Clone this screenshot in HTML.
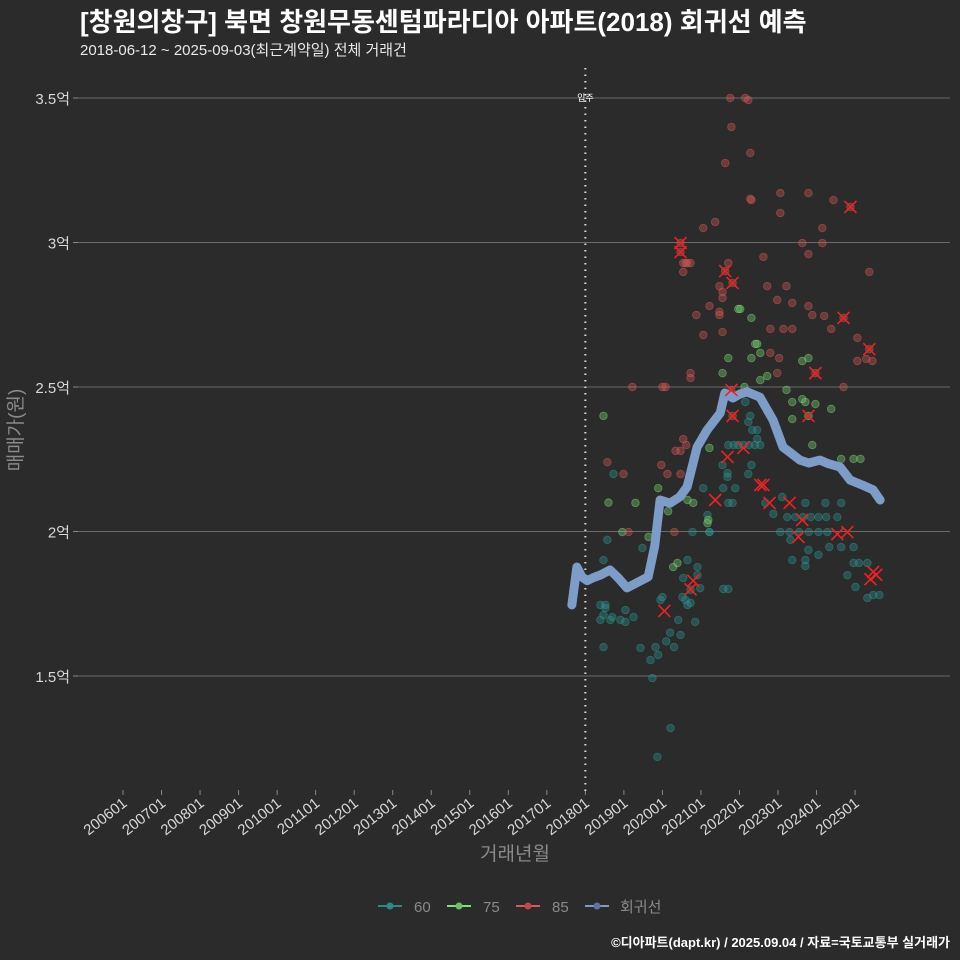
<!DOCTYPE html>
<html><head><meta charset="utf-8">
<style>
body{margin:0;background:#2b2b2b;}
svg{display:block;font-family:"Liberation Sans","Noto Sans CJK KR",sans-serif;}
</style></head>
<body>
<svg id="chart" width="960" height="960" viewBox="0 0 960 960" xmlns="http://www.w3.org/2000/svg">
<rect width="960" height="960" fill="#2b2b2b"/>
<text x="80" y="31" fill="#ffffff" font-size="26" font-weight="bold">[창원의창구] 북면 창원무동센텀파라디아 아파트(2018) 회귀선 예측</text>
<text x="80" y="55" fill="#e8e8e8" font-size="15">2018-06-12 ~ 2025-09-03(최근계약일) 전체 거래건</text>
<g id="grid"></g>
<g id="yaxis"></g>
<g id="xaxis"></g>
<g id="marks"></g>
<text transform="translate(22,430) rotate(-90)" text-anchor="middle" fill="#8a8a8a" font-size="19">매매가(원)</text>
<text x="515" y="860" text-anchor="middle" fill="#8a8a8a" font-size="19">거래년월</text>
<g font-size="15" fill="#8a8a8a">
 <g><line x1="378" y1="906" x2="402" y2="906" stroke="#2a8a86" stroke-width="2"/><circle cx="390" cy="906" r="3.5" fill="#2a8a86"/><text x="414" y="912">60</text></g>
 <g><line x1="447" y1="906" x2="471" y2="906" stroke="#7ee07a" stroke-width="2"/><circle cx="459" cy="906" r="3.5" fill="#6cc06a"/><text x="483" y="912">75</text></g>
 <g><line x1="516" y1="906" x2="540" y2="906" stroke="#e05555" stroke-width="2"/><circle cx="528" cy="906" r="3.5" fill="#c04848"/><text x="552" y="912">85</text></g>
 <g><line x1="585" y1="906" x2="609" y2="906" stroke="#7d9cc8" stroke-width="2"/><circle cx="597" cy="906" r="3.5" fill="#5a74a0"/><text x="620" y="912">회귀선</text></g>
</g>
<text x="950" y="947" text-anchor="end" fill="#ffffff" font-size="13" font-weight="bold">©디아파트(dapt.kr) / 2025.09.04 / 자료=국토교통부 실거래가</text>
</svg>
<script>
const yTicks=[3.5,3,2.5,2,1.5];
const yTickLabels=["3.5억","3억","2.5억","2억","1.5억"];
const xTicks=[2006,2007,2008,2009,2010,2011,2012,2013,2014,2015,2016,2017,2018,2019,2020,2021,2022,2023,2024,2025];
const xTickLabels=["200601","200701","200801","200901","201001","201101","201201","201301","201401","201501","201601","201701","201801","201901","202001","202101","202201","202301","202401","202501"];
const moveInYear=2018;
const s60=[[2018.47,1.901],[2018.57,1.971],[2018.73,2.199],[2019.48,1.943],[2018.39,1.746],[2018.52,1.746],[2018.47,1.711],[2018.70,1.704],[2019.04,1.728],[2019.25,1.704],[2020.00,1.773],[2020.52,1.773],[2020.65,1.746],[2020.73,1.798],[2020.91,1.877],[2020.65,1.901],[2020.78,1.998],[2021.22,1.998],[2021.06,2.15],[2021.58,2.15],[2021.89,2.15],[2021.71,2.099],[2021.82,2.099],[2021.69,2.189],[2021.69,2.202],[2022.31,2.23],[2022.23,2.199],[2021.56,2.23],[2021.58,1.801],[2021.71,1.801],[2021.71,2.299],[2021.85,2.299],[2021.97,2.299],[2022.10,2.299],[2022.25,2.299],[2022.40,2.299],[2022.54,2.299],[2022.23,2.379],[2022.33,2.351],[2022.46,2.351],[2022.28,2.40],[2022.46,2.32],[2022.15,2.448],[2022.67,2.099],[2022.88,2.061],[2023.11,2.119],[2023.71,2.099],[2024.23,2.099],[2024.64,2.099],[2023.24,2.05],[2023.45,2.05],[2023.65,2.05],[2023.85,2.05],[2024.05,2.05],[2024.25,2.05],[2024.54,2.05],[2023.06,1.998],[2023.30,1.998],[2023.55,1.998],[2023.80,1.998],[2024.05,1.998],[2024.28,1.998],[2023.32,1.971],[2023.79,1.936],[2024.05,1.919],[2024.33,1.946],[2024.64,1.946],[2024.96,1.946],[2023.37,1.901],[2023.71,1.901],[2023.71,1.881],[2024.96,1.891],[2025.10,1.891],[2025.32,1.891],[2024.80,1.849],[2025.01,1.808],[2025.32,1.77],[2025.47,1.78],[2025.63,1.78],[2021.17,2.057],[2021.22,1.998],[2019.82,1.60],[2019.69,1.555],[2019.43,1.597],[2019.89,1.573],[2019.74,1.493],[2019.87,1.22],[2020.21,1.32],[2018.47,1.60],[2018.91,1.694],[2018.39,1.694],[2018.65,1.694],[2018.52,1.735],[2019.04,1.687],[2020.60,1.763],[2020.41,1.694],[2020.85,1.687],[2020.47,1.642],[2020.73,1.753],[2020.98,1.804],[2020.91,1.849],[2020.54,1.839],[2019.95,1.763],[2020.20,1.65],[2020.10,1.62],[2020.30,1.60]];
const s75=[[2021.97,2.77],[2022.02,2.77],[2022.31,2.739],[2022.41,2.649],[2022.46,2.649],[2022.54,2.618],[2021.71,2.60],[2022.31,2.60],[2021.56,2.548],[2022.72,2.538],[2022.54,2.524],[2023.63,2.59],[2023.79,2.60],[2023.22,2.49],[2022.13,2.50],[2023.37,2.448],[2023.63,2.458],[2023.71,2.448],[2023.97,2.441],[2024.38,2.424],[2023.37,2.389],[2023.79,2.40],[2023.89,2.299],[2024.64,2.251],[2024.96,2.251],[2025.14,2.251],[2018.47,2.40],[2019.89,2.15],[2019.30,2.099],[2020.65,2.109],[2020.80,2.099],[2021.22,2.289],[2021.17,2.029],[2021.19,2.04],[2018.96,1.998],[2020.39,1.891],[2020.28,1.877],[2019.64,1.981],[2018.60,2.10],[2020.15,2.07]];
const s85=[[2021.76,3.5],[2022.15,3.5],[2022.23,3.493],[2021.63,3.275],[2021.79,3.4],[2022.28,3.31],[2022.28,3.151],[2023.06,3.171],[2023.79,3.171],[2022.31,3.147],[2023.06,3.102],[2024.44,3.147],[2024.88,3.123],[2021.06,3.05],[2021.37,3.071],[2020.47,2.998],[2020.47,2.967],[2020.54,2.929],[2020.60,2.929],[2020.65,2.929],[2020.73,2.929],[2020.54,2.898],[2021.63,2.901],[2021.71,2.929],[2021.82,2.86],[2021.48,2.849],[2021.56,2.829],[2021.56,2.808],[2022.62,2.95],[2023.63,2.998],[2024.15,2.998],[2023.79,2.96],[2024.15,3.05],[2022.72,2.849],[2023.22,2.849],[2021.22,2.78],[2021.48,2.76],[2021.48,2.749],[2020.88,2.749],[2022.98,2.801],[2023.37,2.791],[2023.79,2.78],[2023.89,2.749],[2024.20,2.746],[2024.70,2.739],[2024.38,2.701],[2022.80,2.701],[2023.14,2.701],[2023.37,2.701],[2025.06,2.67],[2025.37,2.631],[2025.06,2.59],[2025.29,2.597],[2025.45,2.59],[2025.37,2.898],[2021.06,2.68],[2021.56,2.69],[2022.80,2.618],[2023.03,2.6],[2022.98,2.548],[2023.97,2.548],[2020.73,2.548],[2020.73,2.531],[2019.22,2.5],[2020.00,2.5],[2020.08,2.5],[2024.70,2.5],[2021.79,2.49],[2021.82,2.4],[2020.54,2.32],[2020.62,2.299],[2020.34,2.279],[2020.47,2.279],[2018.57,2.24],[2018.99,2.199],[2019.97,2.23],[2020.13,2.199],[2020.47,2.199],[2019.12,1.998],[2020.31,1.998]];
const recentX=[[2024.88,3.123],[2020.47,2.998],[2020.47,2.967],[2021.63,2.901],[2021.82,2.86],[2024.70,2.739],[2025.37,2.631],[2023.97,2.548],[2021.79,2.49],[2021.82,2.40],[2023.79,2.40],[2021.69,2.258],[2022.10,2.289],[2022.54,2.161],[2022.62,2.161],[2021.37,2.109],[2022.78,2.099],[2023.30,2.099],[2023.63,2.04],[2023.53,1.981],[2024.54,1.991],[2024.80,1.998],[2025.47,1.86],[2025.40,1.835],[2025.55,1.85],[2020.73,1.80],[2020.80,1.83],[2020.05,1.725]];
const regYears=[2017.65,2017.78,2017.91,2018.05,2018.2,2018.4,2018.64,2018.85,2019.08,2019.3,2019.63,2019.8,2019.94,2020.2,2020.45,2020.64,2020.9,2021.16,2021.5,2021.62,2021.83,2022.0,2022.2,2022.53,2022.87,2023.13,2023.35,2023.57,2023.8,2024.09,2024.3,2024.61,2024.87,2025.2,2025.47,2025.65];
const regValues=[1.746,1.877,1.843,1.83,1.84,1.85,1.867,1.84,1.805,1.82,1.843,1.95,2.109,2.098,2.12,2.154,2.292,2.351,2.41,2.479,2.462,2.475,2.483,2.465,2.386,2.292,2.27,2.247,2.237,2.247,2.235,2.223,2.178,2.16,2.144,2.109];

const NS="http://www.w3.org/2000/svg";
const X=v=>123+(v-2006)*38.53;
const Y=v=>98+(3.5-v)*289;
function mk(tag,attrs,parent){const e=document.createElementNS(NS,tag);for(const k in attrs)e.setAttribute(k,attrs[k]);parent.appendChild(e);return e;}
const grid=document.getElementById('grid'),yax=document.getElementById('yaxis'),xax=document.getElementById('xaxis'),marks=document.getElementById('marks');
yTicks.forEach((t,i)=>{
 const l=mk('line',{x1:78,x2:950,y1:Y(t),y2:Y(t),stroke:'#6a6a6a','stroke-width':1},grid);
 
 
 const tk=mk('line',{x1:73,x2:78,y1:Y(t),y2:Y(t),stroke:'#888'},yax);
 
 
 const tx=mk('text',{x:70,y:Y(t)+6,'text-anchor':'end',fill:'#d8d8d8','font-size':15},yax);
 tx.textContent=yTickLabels[i];
 
 
});
xTicks.forEach((t,i)=>{
 const tk=mk('line',{x1:X(t),x2:X(t),y1:790,y2:795,stroke:'#888'},xax);
 
 
 const tx=mk('text',{transform:`translate(${X(t)+5},${805}) rotate(-38)`,'text-anchor':'end',fill:'#d8d8d8','font-size':15},xax);
 tx.textContent=xTickLabels[i];
 
 
});
const mv=mk('line',{x1:X(moveInYear),x2:X(moveInYear),y1:68,y2:792,stroke:'#dddddd','stroke-width':2,'stroke-dasharray':'1.5 5'},marks);


const mvt=mk('text',{x:X(moveInYear),y:Y(3.5)+3,'text-anchor':'middle',fill:'#ffffff','font-size':9},marks);
mvt.textContent='입주';


function pts(arr,col,name){arr.forEach(p=>{
 const c=mk('circle',{cx:X(p[0]),cy:Y(p[1]),r:3.8,fill:col,'fill-opacity':0.35,stroke:col,'stroke-opacity':0.5,'stroke-width':0.8},marks);
 
 
});}
pts(s60,'#2a9a94','point-60');
pts(s75,'#7ee07a','point-75');
pts(s85,'#e05a5a','point-85');
const reg=mk('polyline',{points:regYears.map((y,i)=>X(y)+','+Y(regValues[i])).join(' '),fill:'none',stroke:'#7d9cc8','stroke-width':9,'stroke-linecap':'round','stroke-linejoin':'round'},marks);


recentX.forEach(p=>{
 const g=mk('path',{d:`M${X(p[0])-6},${Y(p[1])-6}L${X(p[0])+6},${Y(p[1])+6}M${X(p[0])+6},${Y(p[1])-6}L${X(p[0])-6},${Y(p[1])+6}`,stroke:'#ee2222','stroke-width':1.6},marks);
 
 
});
</script>
</body></html>
